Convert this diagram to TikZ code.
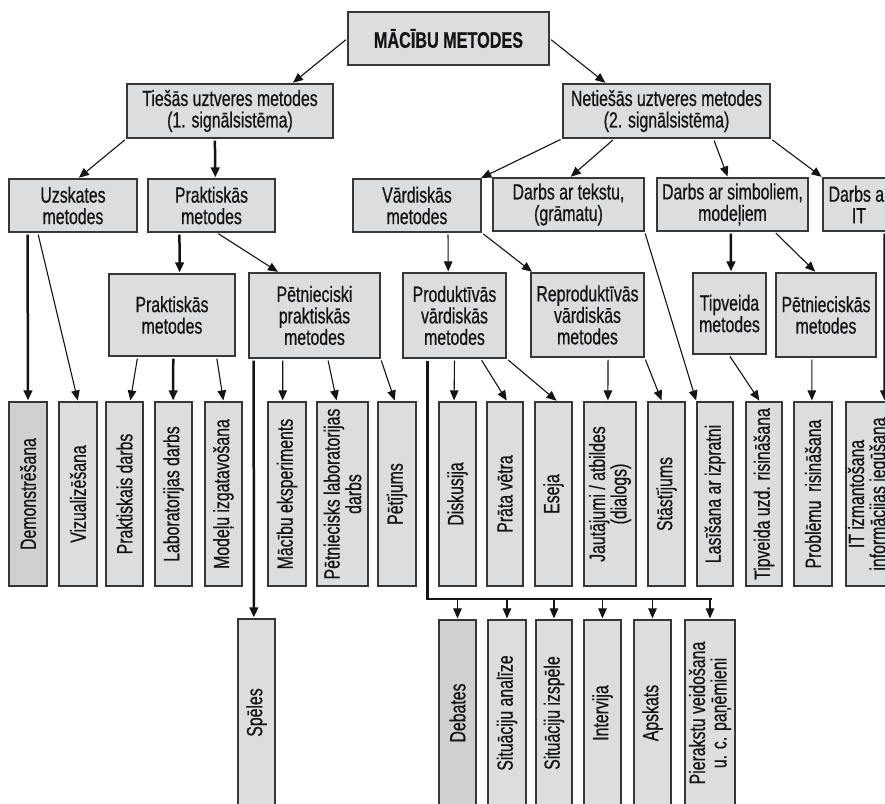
\documentclass[tikz,border=0pt]{standalone}
\usepackage{fontspec}
\setmainfont{Liberation Sans}[FakeStretch=0.72,FakeBold=0.6]
\usetikzlibrary{arrows.meta,calc}
\definecolor{boxfill}{RGB}{220,221,223}
\definecolor{boxdark}{RGB}{207,208,207}
\definecolor{boxline}{RGB}{55,55,55}
\definecolor{ink}{RGB}{20,20,20}
\newcommand\boxfont{\fontsize{22}{21.5}\selectfont}
\newcommand\headfont{\fontsize{22.5}{22}\selectfont\bfseries}
% points along the top / bottom edge of a box, as a fraction of its width
\newcommand\Tpt[2]{($(#1.north west)!#2!(#1.north east)$)}
\newcommand\Bpt[2]{($(#1.south west)!#2!(#1.south east)$)}
% box from its corners: name, options, x1, y1, x2, y2, text
\newcommand\bx[7]{\node[box,#2,minimum width={(#5-#3)*1pt},minimum height={(#6-#4)*1pt}] (#1) at ({(#3+#5)/2},{(#4+#6)/2}) {#7};}
% tall box with text running upwards
\newcommand\tb[7]{\node[box,#2,minimum width={(#5-#3)*1pt},minimum height={(#6-#4)*1pt}] (#1) at ({(#3+#5)/2},{(#4+#6)/2}) {};
  \node[vlabel] (#1-t) at (#1.center) {#7};}
\tikzset{
  box/.style={draw=boxline, fill=boxfill, line width=1.2pt, inner sep=0pt,
    align=center, font=\boxfont, text=ink},
  dark/.style={fill=boxdark},
  vlabel/.style={rotate=90, align=center, font=\boxfont, inner sep=0pt, text=ink},
  arr/.style={draw=ink, line width=1.1pt, -{Triangle[length=10pt,width=8.5pt]},
    shorten <=2pt, shorten >=1pt},
  thk/.style={line width=2.5pt},
}
\begin{document}
\begin{tikzpicture}[x=1pt,y=-1pt]
\useasboundingbox (0,0) rectangle (885,803);
\clip (0,0) rectangle (885,803);
\fill[white] (0,0) rectangle (885,803);

% upper levels
\bx{T}{font=\headfont}{348}{12}{549}{65}{MĀCĪBU METODES}
\bx{Ties}{}{127}{84}{333}{138}{Tiešās uztveres metodes\\(1. signālsistēma)}
\bx{Neties}{}{563}{84}{770}{138}{Netiešās uztveres metodes\\(2. signālsistēma)}
\bx{Uzsk}{}{9}{179}{137}{232}{Uzskates\\metodes}
\bx{Prak}{}{148}{179}{275}{232}{Praktiskās\\metodes}
\bx{Vard}{}{353}{179}{481}{232}{Vārdiskās\\metodes}
\bx{Teksts}{}{493}{178}{644}{231}{Darbs ar tekstu,\\(grāmatu)}
\bx{Simb}{}{657}{178}{808}{231}{Darbs ar simboliem,\\modeļiem}
\bx{IT}{}{823}{178}{895}{231}{Darbs ar\\IT}
\bx{Prak2}{}{109}{274}{235}{356}{Praktiskās\\metodes}
\bx{Petn}{}{249}{273}{380}{358}{Pētnieciski\\praktiskās\\metodes}
\bx{Prod}{}{403}{273}{506}{358}{Produktīvās\\vārdiskās\\metodes}
\bx{Repr}{}{531}{273}{644}{357}{Reproduktīvās\\vārdiskās\\metodes}
\bx{Tipv}{}{693}{273}{766}{354}{Tipveida\\metodes}
\bx{Petn2}{}{776}{273}{876}{357}{Pētnieciskās\\metodes}

% methods, first row
\tb{Demo}{dark}{9}{402}{47}{586}{Demonstrēšana}
\tb{Viz}{}{59}{402}{97}{586}{Vizualizēšana}
\tb{PrDarbs}{}{106}{402}{143}{586}{Praktiskais darbs}
\tb{Lab}{}{155}{402}{192}{586}{Laboratorijas darbs}
\tb{Mod}{}{205}{402}{242}{586}{Modeļu izgatavošana}
\tb{Mac}{}{268}{402}{306}{586}{Mācību eksperiments}
\tb{PetLab}{}{317}{402}{368}{586}{Pētniecisks laboratorijas\\darbs}
\tb{Petij}{}{378}{402}{416}{586}{Pētījums}
\tb{Disk}{}{439}{402}{476}{586}{Diskusija}
\tb{Prata}{}{487}{402}{523}{586}{Prāta vētra}
\tb{Eseja}{}{535}{402}{572}{586}{Eseja}
\tb{Jaut}{}{584}{402}{636}{586}{Jautājumi / atbildes\\(dialogs)}
\tb{Stast}{}{648}{402}{685}{586}{Stāstījums}
\tb{Lasis}{}{697}{402}{733}{586}{Lasīšana ar izpratni}
\tb{TipU}{}{746}{402}{782}{586}{Tipveida uzd. risināšana}
\tb{Probl}{}{794}{402}{832}{586}{Problēmu~ risināšana}
\tb{ITizm}{}{846}{402}{892}{586}{IT izmantošana\\informācijas iegūšana}

% methods, second row
\tb{Speles}{}{238}{619}{275}{806}{Spēles}
\tb{Debates}{dark}{439}{620}{476}{806}{Debates}
\tb{SitA}{}{488}{620}{526}{806}{Situāciju analīze}
\tb{SitI}{}{536}{620}{572}{806}{Situāciju izspēle}
\tb{Interv}{}{584}{620}{621}{806}{Intervija}
\tb{Apsk}{}{634}{620}{671}{806}{Apskats}
\tb{Pier}{}{685}{620}{735}{806}{Pierakstu veidošana\\u. c. paņēmieni}

% connectors between the upper levels
\draw[arr] (T.west) -- \Tpt{Ties}{0.80};
\draw[arr] (T.east) -- \Tpt{Neties}{0.21};
\draw[arr] (Ties.south west) -- \Tpt{Uzsk}{0.54};
\draw[arr,thk] \Bpt{Ties}{0.427} -- \Tpt{Prak}{0.53};
\draw[arr] (Neties.south west) -- \Tpt{Vard}{0.99};
\draw[arr] \Bpt{Neties}{0.25} -- \Tpt{Teksts}{0.51};
\draw[arr] \Bpt{Neties}{0.725} -- \Tpt{Simb}{0.47};
\draw[arr] (Neties.south east) -- (IT.north west);
\draw[arr] \Bpt{Prak}{0.54} -- \Tpt{Petn}{0.23};
\draw[arr,thk] \Bpt{Prak}{0.25} -- \Tpt{Prak2}{0.56};
\draw[arr] \Bpt{Vard}{0.74} -- \Tpt{Prod}{0.44};
\draw[arr] (Vard.south east) -- \Tpt{Repr}{0.02};
\draw[arr,thk] \Bpt{Simb}{0.49} -- \Tpt{Tipv}{0.52};
\draw[arr] \Bpt{Simb}{0.775} -- \Tpt{Petn2}{0.40};

% connectors to the methods
\draw[arr,thk] \Bpt{Uzsk}{0.148} -- (Demo.north);
\draw[arr] \Bpt{Uzsk}{0.227} -- (Viz.north);
\draw[arr] \Bpt{Prak2}{0.23} -- \Tpt{PrDarbs}{0.65};
\draw[arr,thk] \Bpt{Prak2}{0.51} -- \Tpt{Lab}{0.49};
\draw[arr] \Bpt{Prak2}{0.85} -- (Mod.north);
\draw[arr,thk] \Bpt{Petn}{0.04} -- \Tpt{Speles}{0.43};
\draw[arr] \Bpt{Petn}{0.26} -- \Tpt{Mac}{0.39};
\draw[arr] \Bpt{Petn}{0.60} -- \Tpt{PetLab}{0.39};
\draw[arr] (Petn.south east) -- \Tpt{Petij}{0.45};
\draw[arr] \Bpt{Prod}{0.50} -- \Tpt{Disk}{0.41};
\draw[arr] \Bpt{Prod}{0.75} -- \Tpt{Prata}{0.56};
\draw[arr] (Prod.south east) -- \Tpt{Eseja}{0.6};
\draw[arr] \Bpt{Repr}{0.68} -- \Tpt{Jaut}{0.46};
\draw[arr] (Repr.south east) -- \Tpt{Stast}{0.38};
\draw[arr] (Teksts.south east) -- (Lasis.north west);
\draw[arr] \Bpt{Tipv}{0.49} -- \Tpt{TipU}{0.39};
\draw[arr] \Bpt{Petn2}{0.36} -- \Tpt{Probl}{0.47};
\draw[arr,thk] \Bpt{IT}{0.85} -- \Tpt{ITizm}{0.83};

% bus from the productive methods to the second row
\coordinate (bus) at (0,599);
\draw[draw=ink,thk,shorten <=2pt] \Bpt{Prod}{0.24} |- ($(bus -| Pier.north)+(1.5,0)$);
\foreach \b in {Debates,SitA,SitI,Interv,Apsk,Pier}
  \draw[arr,shorten <=0pt] (bus -| \b.north) -- (\b.north);
\end{tikzpicture}
\end{document}
